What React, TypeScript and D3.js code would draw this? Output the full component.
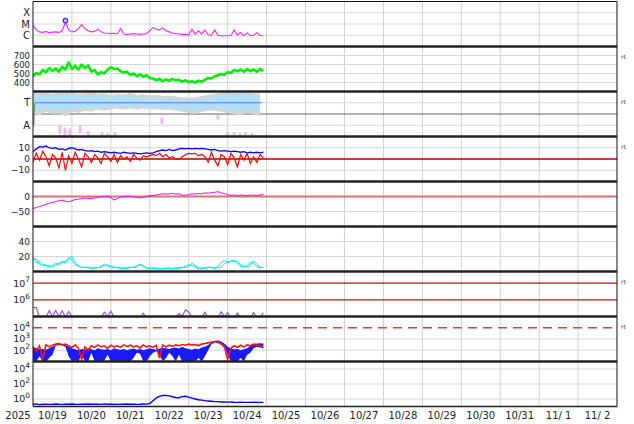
import React from "react";
import * as d3 from "d3";

// samples every 2 hours from 2025-10-19 00:00 UTC
const STEP_H = 2;

const xray = [
  8e-6, 3e-6, 2.0e-6, 1.8e-6, 2.2e-6, 1.7e-6, 1.9e-6, 2.0e-6, 1.8e-6, 2.5e-6,
  1.4e-5, 3e-6, 2e-6, 2.2e-6, 4e-6, 9e-6, 4e-6, 2.5e-6, 2e-6, 2.2e-6,
  3.5e-6, 2e-6, 1.6e-6, 1.5e-6, 1.4e-6, 1.5e-6, 1.3e-6, 4e-6, 1.3e-6, 1.2e-6,
  1.3e-6, 1.4e-6, 1.3e-6, 1.2e-6, 1.3e-6, 1.4e-6, 2.5e-6, 5e-6, 3.5e-6, 3e-6,
  4.5e-6, 2.5e-6, 2e-6, 1.6e-6, 1.4e-6, 1.3e-6, 1.2e-6, 1.2e-6, 1.1e-6, 3.5e-6,
  1.2e-6, 2.5e-6, 1.3e-6, 2.8e-6, 1.1e-6, 1.0e-6, 3e-6, 1.0e-6, 0.9e-6, 0.9e-6,
  0.9e-6, 0.9e-6, 3e-6, 1.0e-6, 1.8e-6, 0.9e-6, 1.6e-6, 0.9e-6, 1.0e-6, 1.7e-6,
  1.0e-6, 0.9e-6,
];
const flareHours = [20];
const flareFlux = [2e-5];

const wind = [
  470, 505, 490, 540, 515, 560, 530, 555, 520, 575,
  545, 625, 550, 585, 545, 600, 560, 590, 520, 540,
  490, 515, 500, 545, 570, 550, 555, 525, 510, 520,
  485, 500, 470, 490, 465, 480, 450, 445, 425, 440,
  415, 435, 420, 440, 425, 430, 410, 425, 405, 415,
  400, 420, 410, 430, 450, 445, 470, 480, 495, 485,
  515, 505, 540, 525, 545, 520, 550, 525, 545, 520,
  550, 530,
];

// T / A panel, 4-hour samples
const TA_STEP_H = 4;
const tHi = [
  1.7, 1.75, 1.6, 1.7, 1.65, 1.75, 1.6, 1.7, 1.55, 1.65,
  1.6, 1.7, 1.5, 1.6, 1.55, 1.65, 1.45, 1.55, 1.4, 1.5,
  1.35, 1.45, 1.3, 1.2, 1.15, 1.25, 1.3, 1.45, 1.6, 1.7,
  1.75, 1.7, 1.8, 1.75, 1.7, 1.6,
];
const tLo = [
  0.4, 0.3, 0.5, 0.35, 0.45, 0.3, 0.5, 0.4, 0.55, 0.45,
  0.6, 0.5, 0.55, 0.65, 0.6, 0.7, 0.6, 0.65, 0.55, 0.6,
  0.5, 0.55, 0.45, 0.4, 0.35, 0.3, 0.4, 0.45, 0.5, 0.45,
  0.4, 0.35, 0.3, 0.4, 0.35, 0.2,
];
const grayHi = [
  1.9, 1.85, 1.9, 1.8, 1.9, 1.85, 1.9, 1.8, 1.85, 1.9,
  1.8, 1.85, 1.7, 1.8, 1.75, 1.85, 1.7, 1.75, 1.65, 1.7,
  1.6, 1.65, 1.55, 1.5, 1.45, 1.5, 1.6, 1.7, 1.8, 1.9,
  1.9, 1.85, 1.9, 1.9, 1.85, 1.8,
];
const grayLo = [
  0.1, -0.1, 0.2, 0.0, 0.1, -0.2, 0.2, 0.1, 0.3, 0.2,
  0.4, 0.3, 0.4, 0.5, 0.4, 0.5, 0.4, 0.5, 0.4, 0.45,
  0.35, 0.4, 0.3, 0.2, 0.1, 0.0, 0.2, 0.3, 0.3, 0.2,
  0.1, 0.0, -0.1, 0.1, 0.0, -0.2,
];
const statusHours = [0, 1.2, 141];
const statusLevel = [-1, 1, 1];
const pinkHours = [0.5, 16.6, 19.7, 22.8, 29, 34, 42.5, 46, 50.5, 79.5, 114, 120, 124, 127.6, 131, 135];
const pinkLo = [-1.1, -1.8, -1.9, -2, -1.7, -2, -2, -2, -2, -0.9, -0.5, -2, -2, -2, -2, -2];
const pinkHi = [-0.1, -1.0, -1.2, -1.3, -1.0, -1.5, -1.6, -1.7, -1.6, -0.3, -0.1, -1.6, -1.6, -1.7, -1.6, -1.7];

const bt = [
  6.5, 9, 11, 10.5, 11.5, 10, 9.5, 10, 8.5, 9,
  8, 9.5, 10, 9, 8, 8.5, 7.5, 7, 7.5, 6.5,
  7, 6, 6.5, 6, 5.5, 6, 5.5, 5, 6, 5.5,
  5, 5.5, 5, 4.5, 5, 5.5, 5, 5.5, 6.5, 7.5,
  8, 7.5, 8.5, 7.5, 8, 9, 9.5, 9, 9.5, 9,
  9.5, 9, 9.5, 9, 8.5, 8, 8.5, 7.5, 7, 7.5,
  7, 6.5, 7, 6.5, 6, 6.5, 5.5, 6, 5.5, 6,
  5.5, 6,
];
const bz = [
  -3, 5, -1, 7, 2, -6, 4, 1, -8, 6,
  -10, 3, -4, 6, 0, -7, 5, 2, -3, 4,
  1, -4, 5, 2, -2, 4, -3, 3, 0, 2,
  -2, 4, 1, -1, 3, 2, 3, 4, 3, 5,
  2, 4, 1, 2, 0, -0.5, 2, 4, 5, 4.5,
  5, 3, 4, 2, -3, 6, -1, -6, 4, 2,
  -5, 5, 1, -7, 4, -1, 5, -4, 2, -3,
  4, 1,
];

const dst = [
  -40, -37, -33, -30, -27, -22, -20, -17, -14, -12,
  -16, -18, -14, -10, -9, -7, -5, -6, -7, -5,
  -3, -1, 0, 1, -4, -12, -7, -2, 0, 1,
  0, -1, -3, -5, -3, 0, 3, 4, 5, 7,
  9, 8, 9, 10, 8, 9, 5, 4, 6, 9,
  8, 10, 9, 12, 11, 13, 14, 16, 12, 10,
  6, 4, 5, 3, 5, 4, 3, 5, 4, 4,
  5, 7,
];

const dens1 = [
  18, 12, 14, 10, 7, 8, 6, 9, 11, 12,
  14, 16, 20, 12, 7, 6, 5, 6, 5, 4,
  5, 6, 8, 9, 7, 6, 5, 4, 5, 4,
  5, 6, 8, 9, 7, 5, 4, 5, 4, 3,
  4, 5, 4, 3, 4, 5, 6, 5, 7, 11,
  8, 5, 4, 5, 6, 5, 4, 5, 6, 10,
  13, 14, 13, 14, 9, 7, 6, 8, 14, 10,
  6, 5,
];
const dens2 = [
  16, 17, 10, 8, 9, 6, 8, 11, 9, 14,
  11, 19, 15, 9, 8, 5, 6, 5, 4, 6,
  5, 7, 10, 7, 6, 5, 6, 5, 4, 5,
  6, 5, 6, 10, 8, 4, 5, 4, 5, 4,
  3, 4, 5, 4, 5, 4, 5, 7, 9, 8,
  6, 4, 5, 4, 5, 6, 5, 7, 12, 15,
  12, 13, 15, 11, 7, 6, 8, 12, 11, 7,
  5, 6,
];

const proton = [
  3.5e5, 3.4e5, 0.8e5, 0.8e5, 0.9e5, 2.2e5, 1.0e5, 2.3e5, 1.0e5, 2.2e5,
  0.9e5, 2.0e5, 1.0e5, 0.8e5, 0.8e5, 0.8e5, 0.8e5, 0.8e5, 0.8e5, 0.8e5,
  0.8e5, 0.9e5, 1.8e5, 1.0e5, 2.1e5, 0.9e5, 0.8e5, 0.8e5, 0.8e5, 0.8e5,
  0.8e5, 0.8e5, 0.8e5, 0.9e5, 1.6e5, 0.8e5, 0.8e5, 0.8e5, 0.8e5, 0.8e5,
  0.8e5, 0.8e5, 0.8e5, 0.8e5, 0.9e5, 1.5e5, 1.0e5, 2.6e5, 1.8e5, 0.9e5,
  0.8e5, 0.8e5, 0.8e5, 1.8e5, 0.8e5, 0.8e5, 0.8e5, 0.8e5, 1.9e5, 1.0e5,
  1.7e5, 0.8e5, 0.8e5, 1.6e5, 0.8e5, 0.8e5, 0.8e5, 0.8e5, 1.7e5, 0.8e5,
  0.8e5, 1.7e5,
];

const elecRed = [
  150, 80, 250, 15, 300, 200, 280, 350, 400, 300,
  350, 250, 180, 300, 150, 15, 200, 100, 250, 180,
  300, 200, 250, 150, 280, 200, 250, 180, 300, 220,
  280, 200, 250, 160, 300, 200, 250, 180, 280, 20,
  300, 200, 280, 220, 300, 250, 320, 280, 350, 300,
  320, 260, 350, 400, 450, 550, 600, 500, 350, 200,
  15, 150, 250, 180, 280, 200, 300, 250, 350, 300,
  280, 150,
];
const elecBlueHi = [
  200, 150, 120, 130, 110, 150, 200, 300, 400, 380,
  300, 200, 150, 120, 100, 130, 110, 140, 120, 100,
  150, 120, 110, 130, 100, 150, 120, 110, 130, 100,
  120, 140, 110, 130, 100, 120, 150, 130, 110, 140,
  160, 150, 130, 160, 180, 140, 200, 150, 130, 110,
  140, 120, 180, 200, 300, 500, 700, 750, 600, 400,
  200, 150, 120, 130, 100, 120, 150, 250, 350, 400,
  420, 400,
];
const elecBlueLo = [
  12, 10, 30, 10, 10, 20, 40, 250, 300, 280,
  200, 30, 10, 12, 10, 40, 10, 10, 60, 10,
  10, 10, 12, 40, 10, 10, 10, 10, 12, 10,
  10, 20, 60, 50, 10, 10, 30, 60, 80, 40,
  10, 20, 60, 30, 10, 40, 10, 10, 10, 10,
  10, 20, 10, 30, 100, 350, 500, 550, 400, 250,
  40, 10, 10, 10, 20, 10, 40, 60, 150, 200,
  180, 150,
];

const hiEnergy = [
  0.2, 0.22, 0.18, 0.2, 0.21, 0.19, 0.2, 0.22, 0.2, 0.19,
  0.21, 0.2, 0.22, 0.2, 0.19, 0.21, 0.2, 0.22, 0.2, 0.21,
  0.2, 0.19, 0.22, 0.2, 0.21, 0.2, 0.19, 0.21, 0.2, 0.22,
  0.2, 0.21, 0.19, 0.2, 0.22, 0.21, 0.25, 0.6, 1.4, 2.2,
  2.9, 3.0, 2.6, 2.0, 1.6, 1.5, 2.1, 2.3, 1.8, 1.3,
  1.0, 0.8, 0.7, 0.6, 0.55, 0.5, 0.45, 0.45, 0.4, 0.4,
  0.38, 0.4, 0.37, 0.36, 0.38, 0.35, 0.36, 0.35, 0.37, 0.35,
  0.36, 0.35,
];

// axis labels
const xrayTicks = [1e-4, 1e-5, 1e-6];
const xrayLabels = ["X", "M", "C"];
const windTicks = [700, 600, 500, 400];
const taTicks = [1, -1];
const taLabels = ["T", "A"];
const bTicks = [10, 0, -10];
const dstTicks = [0, -50];
const densTicks = [40, 20];
const protonTicks = [1e7, 1e6];
const elecTicks = [1e4, 1e3, 1e2];
const hiTicks = [1e4, 1e2, 1e0];
const rtPanels = [1, 2, 3, 6, 7];

const W = 634;
const H = 424;
const LEFT = 33;
const RIGHT = 617;
const TOP = 1.5;
const PH = 45;
const FONT = "DejaVu Sans";

const t0 = Date.UTC(2025, 9, 19);
const tEnd = Date.UTC(2025, 10, 3);
const HOUR = 3600e3;

const x = d3.scaleUtc().domain([new Date(t0), new Date(tEnd)]).range([LEFT, RIGHT]);
const xAt = (h: number) => x(new Date(t0 + h * HOUR));

const pTop = (k: number) => TOP + k * PH;
const pBot = (k: number) => TOP + (k + 1) * PH;

const yXray = d3.scaleLog().domain([1e-7, 1e-3]).range([pBot(0), pTop(0)]);
const yWind = d3.scaleLinear().domain([300, 800]).range([pBot(1), pTop(1)]);
const yTA = d3.scaleLinear().domain([-2, 2]).range([pBot(2), pTop(2)]);
const yB = d3.scaleLinear().domain([-20, 20]).range([pBot(3), pTop(3)]);
const yDst = d3.scaleLinear().domain([-100, 50]).range([pBot(4), pTop(4)]);
const yDens = d3.scaleLinear().domain([0, 60]).range([pBot(5), pTop(5)]);
const yProton = d3.scaleLog().domain([1e5, 5e7]).range([pBot(6), pTop(6)]);
const yElec = d3.scaleLog().domain([10, 1e5]).range([pBot(7), pTop(7)]);
const yHi = d3.scaleLog().domain([0.1, 1e5]).range([pBot(8), pTop(8)]);

function linePath(vals: number[], y: (v: number) => number, step = STEP_H) {
  return d3.line<number>().x((_, i) => xAt(i * step)).y((v) => y(v))(vals) ?? undefined;
}

function bandPath(lo: number[], hi: number[], y: (v: number) => number, step = STEP_H) {
  return (
    d3.area<number>()
      .x((_, i) => xAt(i * step))
      .y0((_, i) => y(lo[i]))
      .y1((v) => y(v))(hi) ?? undefined
  );
}

function Grid({ ticks, y }: { ticks: number[]; y: (v: number) => number }) {
  return (
    <>
      {ticks.map((v, i) => (
        <line key={i} x1={LEFT} x2={RIGHT} y1={y(v)} y2={y(v)} stroke="#d6d6d6" strokeWidth={1} />
      ))}
    </>
  );
}

function Labels({ ticks, y, labels, size = 9 }: { ticks: number[]; y: (v: number) => number; labels?: string[]; size?: number }) {
  return (
    <>
      {ticks.map((v, i) => (
        <text key={i} x={30} y={y(v)} dy="0.36em" textAnchor="end" fontSize={size}>
          {labels ? labels[i] : v < 0 ? `\u2212${-v}` : v}
        </text>
      ))}
    </>
  );
}

function PowLabels({ ticks, y }: { ticks: number[]; y: (v: number) => number }) {
  return (
    <>
      {ticks.map((v, i) => (
        <text key={i} x={30} y={y(v)} dy="0.36em" textAnchor="end" fontSize={9.5}>
          10
          <tspan dy="-4.5" fontSize={7.5}>
            {Math.round(Math.log10(v))}
          </tspan>
        </text>
      ))}
    </>
  );
}

export default function App() {
  const days = d3.utcDay.range(new Date(t0), new Date(tEnd));
  const fmt = d3.utcFormat("%m/%e");
  const panels = d3.range(9);

  return (
    <div style={{ position: "absolute", left: 0, top: 0 }}>
      <svg width={W} height={H} fontFamily={FONT} fontSize={10} fill="#222">
        <rect width={W} height={H} fill="#fff" />
        <defs>
          {panels.map((k) => (
            <clipPath key={k} id={`clip${k}`}>
              <rect x={LEFT} y={pTop(k)} width={RIGHT - LEFT} height={PH} />
            </clipPath>
          ))}
        </defs>

        {/* day grid */}
        {days.slice(1).map((d, i) => (
          <line key={i} x1={x(d)} x2={x(d)} y1={pTop(0)} y2={pBot(8)} stroke="#cfcfcf" strokeWidth={1} />
        ))}

        {/* horizontal grid */}
        <Grid ticks={xrayTicks} y={yXray} />
        <Grid ticks={windTicks} y={yWind} />
        <Grid ticks={taTicks} y={yTA} />
        <Grid ticks={[10, -10]} y={yB} />
        <Grid ticks={[-50]} y={yDst} />
        <Grid ticks={densTicks} y={yDens} />
        <Grid ticks={[1e3, 1e2]} y={yElec} />
        <Grid ticks={hiTicks} y={yHi} />

        {/* reference lines */}
        <line x1={LEFT} x2={RIGHT} y1={yTA(0)} y2={yTA(0)} stroke="#666" strokeWidth={1} />
        <line x1={LEFT} x2={RIGHT} y1={yB(0)} y2={yB(0)} stroke="#b00000" strokeWidth={1.3} />
        <line x1={LEFT} x2={RIGHT} y1={yDst(0)} y2={yDst(0)} stroke="#d77474" strokeWidth={2.2} />
        {protonTicks.map((v, i) => (
          <line key={i} x1={LEFT} x2={RIGHT} y1={yProton(v)} y2={yProton(v)} stroke="#cc1111" strokeWidth={1.2} />
        ))}
        <line x1={LEFT} x2={RIGHT} y1={yElec(1e4)} y2={yElec(1e4)} stroke="#e03a3a" strokeWidth={1.5} strokeDasharray="9 6" />

        {/* 1: x-ray */}
        <g clipPath="url(#clip0)">
          <path d={linePath(xray, yXray)} fill="none" stroke="#ff22ff" strokeWidth={1.1} />
          {flareHours.map((h, i) => (
            <circle key={i} cx={xAt(h)} cy={yXray(flareFlux[i])} r={2.3} fill="#c8c8ff" stroke="#3333ff" strokeWidth={1.2} />
          ))}
        </g>

        {/* 2: wind speed */}
        <g clipPath="url(#clip1)">
          <path d={linePath(wind, yWind)} fill="none" stroke="#00ee00" strokeWidth={2.6} strokeLinejoin="round" />
        </g>

        {/* 3: T / A */}
        <g clipPath="url(#clip2)">
          <path d={bandPath(grayLo, grayHi, yTA, TA_STEP_H)} fill="#d4d4d4" />
          <path d={bandPath(tLo, tHi, yTA, TA_STEP_H)} fill="#aee0fb" />
          {pinkHours.map((h, i) => (
            <rect
              key={i}
              x={xAt(h) - 1.5}
              y={yTA(pinkHi[i])}
              width={3}
              height={yTA(pinkLo[i]) - yTA(pinkHi[i])}
              fill="#f2b8f2"
            />
          ))}
          <line
            x1={xAt(statusHours[0])}
            y1={yTA(statusLevel[0])}
            x2={xAt(statusHours[1])}
            y2={yTA(statusLevel[1])}
            stroke="#4a9a4a"
            strokeWidth={1}
          />
          <line
            x1={xAt(statusHours[1])}
            y1={yTA(statusLevel[1])}
            x2={xAt(statusHours[2])}
            y2={yTA(statusLevel[2])}
            stroke="#6a70ee"
            strokeWidth={1.2}
          />
        </g>

        {/* 4: Bt / Bz */}
        <g clipPath="url(#clip3)">
          <path d={linePath(bt, yB)} fill="none" stroke="#0000ff" strokeWidth={1.3} />
          <path d={linePath(bz, yB)} fill="none" stroke="#ff0000" strokeWidth={1.2} />
        </g>

        {/* 5: Dst */}
        <g clipPath="url(#clip4)">
          <path d={linePath(dst, yDst)} fill="none" stroke="#ee00ee" strokeWidth={1} />
        </g>

        {/* 6: density */}
        <g clipPath="url(#clip5)">
          <path d={linePath(dens1, yDens)} fill="none" stroke="#00e8ee" strokeWidth={1} />
          <path d={linePath(dens2, yDens)} fill="none" stroke="#00e8ee" strokeWidth={1} />
        </g>

        {/* 7: protons */}
        <g clipPath="url(#clip6)">
          <path d={linePath(proton, yProton)} fill="none" stroke="#a040e0" strokeWidth={1.1} />
        </g>

        {/* 8: electrons */}
        <g clipPath="url(#clip7)">
          <path d={bandPath(elecBlueLo, elecBlueHi, yElec)} fill="#1a1aff" />
          <path d={linePath(elecRed, yElec)} fill="none" stroke="#ff1010" strokeWidth={1.6} />
        </g>

        {/* 9: high energy */}
        <g clipPath="url(#clip8)">
          <path d={linePath(hiEnergy, yHi)} fill="none" stroke="#0000ff" strokeWidth={1.4} />
        </g>

        {/* frame and panel dividers */}
        <line x1={LEFT} x2={LEFT} y1={pTop(0)} y2={pBot(8)} stroke="#111" strokeWidth={1} />
        <line x1={RIGHT} x2={RIGHT} y1={pTop(0)} y2={pBot(8)} stroke="#111" strokeWidth={1} />
        <line x1={LEFT} x2={RIGHT} y1={pTop(0)} y2={pTop(0)} stroke="#111" strokeWidth={1} />
        {d3.range(1, 9).map((k) => (
          <line key={k} x1={LEFT} x2={RIGHT} y1={pTop(k)} y2={pTop(k)} stroke="#222" strokeWidth={2.6} />
        ))}
        <line x1={LEFT} x2={RIGHT} y1={pBot(8)} y2={pBot(8)} stroke="#222" strokeWidth={1.5} />

        {/* y labels */}
        <Labels ticks={xrayTicks} y={yXray} labels={xrayLabels} size={10} />
        <Labels ticks={windTicks} y={yWind} size={8.5} />
        <Labels ticks={taTicks} y={yTA} labels={taLabels} size={10} />
        <Labels ticks={bTicks} y={yB} />
        <Labels ticks={dstTicks} y={yDst} />
        <Labels ticks={densTicks} y={yDens} />
        <PowLabels ticks={protonTicks} y={yProton} />
        <PowLabels ticks={elecTicks} y={yElec} />
        <PowLabels ticks={hiTicks} y={yHi} />

        {rtPanels.map((k) => (
          <text key={k} x={621} y={pTop(k) + 12} fontSize={6} fill="#444">
            rt
          </text>
        ))}

        {/* x labels */}
        <text x={18} y={419} textAnchor="middle">
          2025
        </text>
        {days.map((d, i) => (
          <text key={i} x={x(d3.utcHour.offset(d, 12))} y={419} textAnchor="middle" style={{ whiteSpace: "pre" }}>
            {fmt(d)}
          </text>
        ))}
      </svg>
    </div>
  );
}
